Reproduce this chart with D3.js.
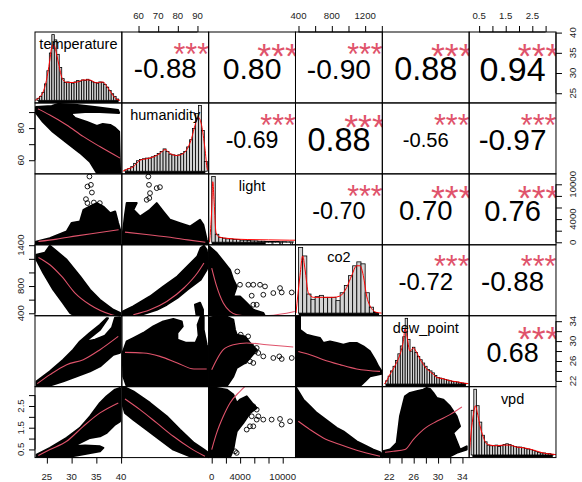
<!DOCTYPE html>
<html>
<head>
<meta charset="utf-8">
<script src="https://cdn.jsdelivr.net/npm/d3@7/dist/d3.min.js"></script>
<style>
  body { margin: 0; background: #fff; }
  svg text { font-family: "Liberation Sans", Arial, sans-serif; }
</style>
</head>
<body>
<div id="chart-area"></div>
<script>
const varNames = ["temperature", "humanidity", "light", "co2", "dew_point", "vpd"];
const varDomains = [[22.6, 40.15], [51.5, 95.7], [-430, 11800], [364, 1406], [20.85, 35.1], [0.125, 3.39]];

// axis ticks and the labels R kept
const tempTicks = [25, 30, 35, 40];
const humTicks = [60, 70, 80, 90];
const lightTicks = [0, 2000, 4000, 6000, 8000, 10000];
const co2Ticks = [400, 600, 800, 1000, 1200, 1400];
const dewTicks = [22, 24, 26, 28, 30, 32, 34];
const vpdTicks = [0.5, 1, 1.5, 2, 2.5, 3];

const humTopLabels = [60, 70, 80, 90];
const co2TopLabels = [400, 800, 1200];
const vpdTopLabels = [0.5, 1.5, 2.5];
const tempBottomLabels = [25, 30, 35, 40];
const lightBottomLabels = [0, 4000, 10000];
const dewBottomLabels = [22, 26, 30, 34];
const humLeftLabels = [60, 80];
const co2LeftLabels = [400, 800, 1400];
const vpdLeftLabels = [0.5, 1.5, 2.5];
const tempRightLabels = [25, 30, 35, 40];
const lightRightLabels = [0, 4000, 10000];
const dewRightLabels = [22, 26, 30, 34];

// correlations (upper panels)
const corrRows = [0, 0, 0, 0, 0, 1, 1, 1, 1, 2, 2, 2, 3, 3, 4];
const corrCols = [1, 2, 3, 4, 5, 2, 3, 4, 5, 3, 4, 5, 4, 5, 5];
const corrValues = [-0.88, 0.80, -0.90, 0.88, 0.94, -0.69, 0.88, -0.56, -0.97, -0.70, 0.70, 0.76, -0.72, -0.88, 0.68];
const corrStars = ["***", "***", "***", "***", "***", "***", "***", "***", "***", "***", "***", "***", "***", "***", "***"];

// histograms (relative density per bin) and density curves
const tempHist = [0.03, 0.06, 0.12, 0.25, 0.45, 0.72, 1.0, 0.92, 0.7, 0.5, 0.33, 0.27, 0.28, 0.27, 0.26, 0.28, 0.3, 0.29, 0.31, 0.3, 0.32, 0.3, 0.28, 0.27, 0.26, 0.28, 0.27, 0.24, 0.2, 0.15, 0.1, 0.06, 0.02];
const humHist = [0.02, 0.04, 0.07, 0.12, 0.16, 0.18, 0.19, 0.2, 0.2, 0.22, 0.24, 0.27, 0.3, 0.34, 0.3, 0.26, 0.25, 0.24, 0.25, 0.27, 0.3, 0.37, 0.48, 0.65, 0.88, 1.0, 0.62, 0.15];
const lightHist = [1.0, 0.12, 0.07, 0.06, 0.05, 0.05, 0.04, 0.04, 0.03, 0.03, 0.025, 0.02, 0.02, 0.015, 0.015, 0.01, 0.01, 0.01, 0.01, 0.008, 0.008, 0.005, 0.005];
const co2Hist = [1.0, 0.87, 0.29, 0.21, 0.25, 0.27, 0.24, 0.24, 0.24, 0.19, 0.31, 0.42, 0.57, 0.72, 0.78, 0.75, 0.31, 0.09, 0.01];
const dewHist = [0.05, 0.12, 0.2, 0.27, 0.36, 0.46, 0.58, 0.72, 1.0, 0.68, 0.5, 0.56, 0.48, 0.42, 0.37, 0.32, 0.27, 0.22, 0.2, 0.17, 0.13, 0.1, 0.09, 0.08, 0.07, 0.06, 0.05, 0.04, 0.035, 0.03, 0.02, 0.015, 0.01];
const vpdHist = [0.68, 1.0, 0.75, 0.5, 0.3, 0.2, 0.15, 0.14, 0.14, 0.15, 0.13, 0.14, 0.16, 0.17, 0.16, 0.14, 0.13, 0.12, 0.12, 0.11, 0.1, 0.09, 0.08, 0.07, 0.05, 0.04, 0.03, 0.03, 0.02, 0.02, 0.01];
const histStarts = [23.0, 53.0, 0, 400, 21.4, 0.2];
const histWidths = [0.5, 1.5, 500, 50, 0.4, 0.1];

const tempDensity = [[22.6, 0], [22.9, 0.01], [23.55, 0.05], [24.2, 0.12], [24.9, 0.3], [25.57, 0.6], [25.9, 0.78], [26.24, 0.85], [26.58, 0.82], [26.92, 0.72], [27.26, 0.6], [27.59, 0.48], [27.93, 0.37], [28.26, 0.31], [28.94, 0.275], [30.29, 0.27], [31.63, 0.29], [32.3, 0.31], [33.65, 0.31], [35.0, 0.265], [36.34, 0.28], [37.01, 0.225], [37.68, 0.15], [38.36, 0.075], [39.04, 0.02], [39.8, 0]];
const humDensity = [[52, 0], [54, 0.03], [57.3, 0.066], [60.75, 0.167], [64.16, 0.19], [67.5, 0.217], [70.9, 0.27], [73.5, 0.33], [76, 0.27], [79.4, 0.24], [82.8, 0.27], [85.3, 0.37], [87, 0.5], [88.75, 0.7], [90.45, 0.82], [92.1, 0.7], [93.8, 0.35], [95, 0.04], [96, 0]];
const lightDensity = [[-300, 0], [0, 0.5], [150, 0.92], [350, 0.6], [600, 0.15], [1000, 0.08], [2000, 0.06], [3000, 0.05], [5000, 0.04], [8000, 0.035], [11000, 0.03], [11800, 0.03]];
const co2Density = [[370, 0], [418, 0.57], [450, 0.87], [478, 0.67], [518, 0.31], [578, 0.24], [698, 0.24], [818, 0.24], [898, 0.26], [978, 0.39], [1038, 0.57], [1098, 0.72], [1138, 0.72], [1178, 0.57], [1218, 0.26], [1258, 0.11], [1338, 0.01], [1398, 0]];
const dewDensity = [[21.2, 0], [21.56, 0.05], [22.11, 0.15], [22.65, 0.23], [23.21, 0.33], [23.75, 0.45], [24.29, 0.65], [24.6, 0.85], [24.85, 0.75], [25.39, 0.5], [25.93, 0.55], [26.49, 0.48], [27.03, 0.38], [27.57, 0.3], [28.13, 0.23], [28.67, 0.19], [29.21, 0.15], [29.77, 0.1], [30.31, 0.09], [30.86, 0.08], [31.41, 0.065], [31.95, 0.05], [33.05, 0.035], [34.14, 0.015], [35, 0.005]];
const vpdDensity = [[0.13, 0], [0.2, 0.35], [0.28, 0.6], [0.36, 0.75], [0.43, 0.65], [0.53, 0.45], [0.66, 0.27], [0.78, 0.17], [0.91, 0.15], [1.16, 0.14], [1.41, 0.15], [1.66, 0.15], [1.91, 0.12], [2.16, 0.11], [2.41, 0.09], [2.66, 0.06], [2.91, 0.03], [3.16, 0.015], [3.4, 0.005]];

const tempRug = [[23.25, 39.5]];
const humRug = [[53.1, 94.0]];
const lightRug = [[0, 7600], [8440, 8460], [8580, 8600], [9510, 9530], [9620, 9640], [9860, 9880], [9900, 9920], [11030, 11050], [11260, 11280], [11330, 11350]];
const co2Rug = [[402, 1367]];
const dewRug = [[21.38, 34.57]];
const vpdRug = [[0.246, 3.27]];

// lower panels: outline of the dense point cloud, loose points, smoother
const humTempBlob = [[22.8, 93.2], [26.0, 93.8], [27.3, 95.1], [30.7, 94.5], [34.7, 93.2], [39.4, 91.3], [39.6, 89.5], [35.7, 90.1], [32.7, 90.1], [30.1, 89.5], [30.1, 88.2], [30.7, 86.4], [33.1, 83.9], [35.1, 81.4], [36.3, 82.6], [37.8, 82.0], [38.8, 80.1], [39.6, 77.7], [39.8, 52.1], [35.1, 52.1], [33.7, 59.0], [31.7, 64.6], [29.1, 70.8], [26.2, 77.7], [24.2, 83.9], [22.8, 89.5]];
const humTempSmooth = [[23.2, 92.0], [25.6, 88.2], [29.0, 82.0], [32.4, 74.7], [35.7, 68.5], [39.8, 61.3]];

const lightTempBlob = [[22.8, -600], [22.8, 90], [25.6, 720], [29.0, 1860], [30.0, 3310], [31.7, 3590], [32.4, 5600], [33.7, 6170], [35.1, 6760], [36.4, 6170], [37.8, 5030], [38.8, 5310], [39.4, 3310], [39.8, 2160], [39.8, -600]];
const lightTempPoints = [[33.6, 11340], [33.9, 9910], [33.2, 9620], [34.1, 8580], [32.9, 7440], [33.2, 6760], [34.5, 6860], [35.7, 6760]];
const lightTempSmooth = [[23.3, 150], [27, 550], [31, 1100], [35, 1600], [39.5, 2150]];

const co2TempBlob = [[22.9, 1259], [24.6, 1289], [25.6, 1392], [26.6, 1333], [29.0, 1186], [31.7, 941], [33.7, 746], [35.7, 599], [38.4, 452], [39.8, 404], [39.8, 349], [31.0, 349], [29.7, 404], [28.3, 550], [26.3, 746], [24.3, 991], [22.9, 1186]];
const co2TempSmooth = [[23.3, 1220], [25.6, 1113], [28.0, 941], [30.7, 697], [33.7, 525], [38.1, 379], [39.5, 355]];

const dewTempBlob = [[22.94, 21.05], [22.94, 21.91], [25.63, 23.92], [28.32, 26.27], [30.34, 28.28], [31.69, 29.94], [33.72, 31.69], [35.74, 33.29], [37.09, 34.6], [37.35, 34.6], [35.74, 32.29], [33.72, 30.68], [32.71, 29.88], [34.73, 30.28], [36.75, 31.09], [38.16, 32.69], [38.77, 34.7], [39.78, 34.8], [39.78, 27.67], [38.42, 27.27], [35.74, 24.92], [33.72, 23.92], [31.03, 22.92], [28.32, 21.91], [25.63, 21.05]];
const dewTempSmooth = [[23.06, 21.45], [25.63, 23.26], [29.0, 25.27], [32.36, 26.27], [35.74, 28.28], [39.43, 30.95]];

const vpdTempBlob = [[22.94, 0.263], [25.63, 0.571], [29.0, 1.031], [31.69, 1.491], [33.72, 2.025], [35.74, 2.641], [37.09, 2.945], [38.77, 3.253], [39.78, 3.331], [39.78, 1.795], [38.77, 1.643], [37.09, 1.261], [35.74, 1.105], [33.72, 1.031], [31.69, 0.801], [30.34, 0.645], [32.71, 0.677], [35.74, 0.645], [36.41, 0.571], [35.74, 0.415], [31.03, 0.217], [27.65, 0.1], [22.94, 0.1]];
const vpdTempSmooth = [[23.27, 0.217], [25.63, 0.493], [29.0, 0.875], [32.36, 1.565], [35.74, 2.181], [39.43, 2.641]];

const lightHumBlob = [[52.1, -600], [52.1, 1810], [53.11, 4739], [53.98, 6755], [59.07, 6755], [57.34, 5600], [60.75, 4446], [65.84, 5600], [69.25, 6755], [72.61, 5308], [76.03, 3878], [81.12, 3309], [86.21, 2723], [91.3, 3878], [92.97, 3016], [94.7, 432], [95.5, -600]];
const lightHumPoints = [[64.99, 11338], [65.33, 9908], [70.9, 9512], [69.25, 9339], [65.84, 8478], [65.48, 7616], [64.16, 7323]];
const lightHumSmooth = [[53.1, 1750], [64, 1350], [75, 900], [85, 420], [94, 0]];

const co2HumBlob = [[52.1, 357], [52.1, 427], [57.34, 501], [65.84, 647], [72.61, 794], [79.76, 941], [84.85, 1088], [89.94, 1235], [91.62, 1358], [93.3, 1392], [94.7, 1333], [95.5, 1138], [94.7, 1039], [91.62, 892], [84.85, 746], [79.76, 624], [74.34, 525], [69.25, 452], [64.16, 404], [59.07, 357]];
const co2HumStreak = [[88.75, 525], [91.3, 555], [92.8, 452], [92.8, 357], [89.6, 357]];
const co2HumSmooth = [[57.34, 379], [65.84, 452], [74.34, 574], [83.1, 771], [89.94, 991], [93.3, 1138]];

const dewHumBlob = [[52.1, 27.87], [53.98, 29.94], [57.34, 30.62], [62.43, 31.63], [67.52, 32.95], [72.61, 33.96], [77.7, 34.44], [81.97, 33.96], [82.48, 32.95], [79.76, 31.63], [79.76, 30.28], [83.98, 29.68], [89.07, 29.68], [90.6, 31.09], [90.09, 33.29], [91.62, 34.9], [93.16, 34.9], [93.16, 32.29], [94.7, 29.28], [95.5, 28.28], [95.5, 20.95], [53.98, 20.95], [52.25, 22.92], [52.1, 25.27]];
const dewHumSmooth = [[53.11, 27.73], [62.43, 27.61], [70.9, 26.93], [79.76, 25.61], [88.22, 24.4], [94.7, 24.4]];

const vpdHumBlob = [[52.1, 3.345], [53.11, 3.359], [57.34, 3.175], [65.84, 2.641], [74.34, 2.025], [81.12, 1.413], [88.21, 0.801], [93.3, 0.493], [95.5, 0.341], [95.5, 0.102], [86.2, 0.185], [77.7, 0.493], [70.9, 0.953], [64.16, 1.413], [57.34, 1.873], [53.11, 2.181], [52.1, 2.485]];
const vpdHumSmooth = [[53.11, 2.825], [60.75, 2.333], [69.25, 1.721], [77.7, 1.105], [86.2, 0.571], [93.8, 0.185]];

const co2LightBlob = [[-341, 1381], [701, 1284], [1631, 1161], [2575, 1039], [3040, 892], [3520, 794], [3040, 647], [3984, 647], [4928, 550], [5858, 452], [7267, 404], [7507, 357], [-341, 357]];
const co2LightPoints = [[3604, 1014], [3984, 819], [5157, 819], [5858, 819], [6803, 819], [7507, 794], [5633, 658], [7267, 672], [8676, 697], [9621, 770], [9860, 706], [11269, 706], [3984, 511], [4689, 511], [5858, 525], [6337, 525]];
const co2LightSmooth = [[0, 1064], [701, 794], [1631, 550], [2575, 427], [3520, 379], [5000, 362], [8000, 368], [11700, 427]];

const dewLightBlob = [[-341, 34.7], [701, 35.0], [2110, 34.9], [3040, 34.3], [3280, 32.29], [3520, 31.29], [4689, 30.95], [5394, 29.62], [5858, 28.94], [6337, 28.28], [5394, 26.61], [4689, 25.61], [3520, 24.6], [3040, 22.92], [2110, 20.95], [-341, 20.95]];
const dewLightPoints = [[4083, 31.29], [5129, 30.95], [4689, 29.62], [5633, 28.94], [6337, 28.62], [6098, 27.93], [6567, 27.61], [7267, 26.93], [8676, 26.61], [9522, 26.93], [9860, 26.41], [11269, 26.61], [4689, 25.93], [5394, 25.93], [5858, 25.61]];
const dewLightSmooth = [[0, 24.26], [701, 26.27], [1631, 28.28], [3040, 29.28], [4928, 29.62], [7747, 29.28], [11480, 28.82]];

const vpdLightBlob = [[-341, 3.331], [701, 3.331], [2110, 3.253], [3040, 3.023], [3520, 2.641], [3984, 2.793], [4928, 2.945], [5858, 2.563], [6337, 2.411], [5394, 2.181], [4449, 1.721], [3520, 1.335], [3280, 0.953], [3040, 0.493], [2575, 0.139], [-341, 0.1]];
const vpdLightPoints = [[3750, 2.485], [4449, 2.485], [5157, 2.457], [5858, 2.485], [6337, 2.333], [4928, 2.181], [5633, 2.025], [6337, 1.873], [6567, 2.025], [7267, 1.873], [8442, 1.873], [9621, 1.905], [9860, 1.643], [11034, 1.795], [5394, 1.565], [5858, 1.565], [4928, 1.413], [3280, 0.415], [3520, 0.341]];
const vpdLightSmooth = [[0, 0.493], [701, 1.261], [1631, 2.025], [2575, 2.641], [3984, 3.175], [4689, 3.405]];

const dewCo2Blob = [[370, 35.0], [418, 35.0], [418, 32.29], [498, 31.29], [578, 30.95], [658, 30.62], [698, 29.62], [778, 29.94], [858, 29.62], [938, 29.28], [1018, 29.62], [1098, 29.62], [1178, 28.94], [1258, 27.93], [1318, 26.27], [1358, 24.92], [1398, 23.92], [1398, 23.46], [1258, 22.92], [1198, 21.91], [1138, 20.95], [370, 20.95]];
const dewCo2Smooth = [[398, 27.93], [538, 27.27], [698, 26.27], [898, 25.27], [1098, 24.4], [1378, 23.92]];

const vpdCo2Blob = [[370, 3.345], [458, 2.793], [538, 2.485], [618, 2.181], [698, 1.951], [778, 1.721], [858, 1.491], [938, 1.335], [1018, 1.105], [1098, 0.875], [1178, 0.723], [1298, 0.493], [1378, 0.369], [1406, 0.263], [1406, 0.1], [370, 0.1]];
const vpdCo2Smooth = [[398, 1.795], [538, 1.413], [698, 1.031], [898, 0.723], [1098, 0.461], [1378, 0.185]];

const vpdDewBlob = [[20.96, 0.1], [20.96, 0.415], [22.11, 0.493], [23.21, 0.801], [23.75, 2.025], [24.29, 2.641], [24.57, 2.945], [25.39, 3.101], [26.49, 3.175], [27.57, 3.253], [28.13, 3.331], [28.67, 3.285], [29.21, 3.101], [29.77, 2.871], [30.86, 2.793], [31.95, 2.485], [33.05, 2.025], [33.6, 1.565], [32.5, 1.261], [33.6, 0.493], [34.7, 0.645], [34.7, 0.493], [33.05, 0.341], [31.95, 0.185], [30.31, 0.1]];
const vpdDewSmooth = [[21.29, 0.369], [22.65, 0.415], [24.57, 0.493], [25.93, 0.953], [27.57, 1.413], [29.77, 1.795], [31.95, 2.103], [33.9, 2.457]];

// ---- layout ----
const chartSize = { width: 582, height: 482 };
const grid = { left: 35, top: 32, cellW: 86.83, cellH: 70.93 };
const nVars = varNames.length;

const xScales = varDomains.map((d, j) => d3.scaleLinear().domain(d)
    .range([grid.left + j * grid.cellW, grid.left + (j + 1) * grid.cellW]));
const yScales = varDomains.map((d, i) => d3.scaleLinear().domain(d)
    .range([grid.top + (i + 1) * grid.cellH, grid.top + i * grid.cellH]));

const panelBox = (i, j) => ({
    x: grid.left + j * grid.cellW, y: grid.top + i * grid.cellH,
    w: grid.cellW, h: grid.cellH
});

const histTable = [
    { heights: tempHist, density: tempDensity, rug: tempRug },
    { heights: humHist, density: humDensity, rug: humRug },
    { heights: lightHist, density: lightDensity, rug: lightRug },
    { heights: co2Hist, density: co2Density, rug: co2Rug },
    { heights: dewHist, density: dewDensity, rug: dewRug },
    { heights: vpdHist, density: vpdDensity, rug: vpdRug }
];

const lowerPanels = [
    { row: 1, col: 0, blobs: [humTempBlob], points: [], smooth: humTempSmooth },
    { row: 2, col: 0, blobs: [lightTempBlob], points: lightTempPoints, smooth: lightTempSmooth },
    { row: 3, col: 0, blobs: [co2TempBlob], points: [], smooth: co2TempSmooth },
    { row: 4, col: 0, blobs: [dewTempBlob], points: [], smooth: dewTempSmooth },
    { row: 5, col: 0, blobs: [vpdTempBlob], points: [], smooth: vpdTempSmooth },
    { row: 2, col: 1, blobs: [lightHumBlob], points: lightHumPoints, smooth: lightHumSmooth },
    { row: 3, col: 1, blobs: [co2HumBlob, co2HumStreak], points: [], smooth: co2HumSmooth },
    { row: 4, col: 1, blobs: [dewHumBlob], points: [], smooth: dewHumSmooth },
    { row: 5, col: 1, blobs: [vpdHumBlob], points: [], smooth: vpdHumSmooth },
    { row: 3, col: 2, blobs: [co2LightBlob], points: co2LightPoints, smooth: co2LightSmooth },
    { row: 4, col: 2, blobs: [dewLightBlob], points: dewLightPoints, smooth: dewLightSmooth },
    { row: 5, col: 2, blobs: [vpdLightBlob], points: vpdLightPoints, smooth: vpdLightSmooth },
    { row: 4, col: 3, blobs: [dewCo2Blob], points: [], smooth: dewCo2Smooth },
    { row: 5, col: 3, blobs: [vpdCo2Blob], points: [], smooth: vpdCo2Smooth },
    { row: 5, col: 4, blobs: [vpdDewBlob], points: [], smooth: vpdDewSmooth }
];

const axesTable = [
    { side: "top", idx: 1, ticks: humTicks, labels: humTopLabels },
    { side: "top", idx: 3, ticks: co2Ticks, labels: co2TopLabels },
    { side: "top", idx: 5, ticks: vpdTicks, labels: vpdTopLabels },
    { side: "bottom", idx: 0, ticks: tempTicks, labels: tempBottomLabels },
    { side: "bottom", idx: 2, ticks: lightTicks, labels: lightBottomLabels },
    { side: "bottom", idx: 4, ticks: dewTicks, labels: dewBottomLabels },
    { side: "left", idx: 1, ticks: humTicks, labels: humLeftLabels },
    { side: "left", idx: 3, ticks: co2Ticks, labels: co2LeftLabels },
    { side: "left", idx: 5, ticks: vpdTicks, labels: vpdLeftLabels },
    { side: "right", idx: 0, ticks: tempTicks, labels: tempRightLabels },
    { side: "right", idx: 2, ticks: lightTicks, labels: lightRightLabels },
    { side: "right", idx: 4, ticks: dewTicks, labels: dewRightLabels }
];

const svg = d3.select("#chart-area").append("svg")
    .attr("width", chartSize.width)
    .attr("height", chartSize.height);
const defs = svg.append("defs");

const clipFor = (i, j) => {
    const b = panelBox(i, j);
    defs.append("clipPath").attr("id", `clip-${i}-${j}`)
        .append("rect").attr("x", b.x).attr("y", b.y).attr("width", b.w).attr("height", b.h);
    return `url(#clip-${i}-${j})`;
};

const smoothLine = (x, y) => d3.line().x(d => x(d[0])).y(d => y(d[1])).curve(d3.curveMonotoneX);

// diagonal: histogram + density + rug + variable name
const drawDiagonal = (i) => {
    const h = histTable[i];
    const b = panelBox(i, i);
    const x = xScales[i];
    const y = d3.scaleLinear().domain([-0.04, 1.04]).range([b.y + b.h, b.y]);
    const start = histStarts[i], width = histWidths[i];
    const g = svg.append("g").attr("clip-path", clipFor(i, i));

    g.selectAll("rect.bar").data(h.heights).join("rect")
        .attr("class", "bar")
        .attr("x", (d, k) => x(start + k * width))
        .attr("width", (d, k) => x(start + (k + 1) * width) - x(start + k * width))
        .attr("y", d => y(d))
        .attr("height", d => y(0) - y(d))
        .attr("fill", "#d3d3d3")
        .attr("stroke", "#000")
        .attr("stroke-width", 0.8);

    g.append("path").datum(h.density)
        .attr("d", smoothLine(x, y))
        .attr("fill", "none").attr("stroke", "#ff0000").attr("stroke-width", 1);

    g.selectAll("rect.rug").data(h.rug).join("rect")
        .attr("class", "rug")
        .attr("x", d => x(d[0]))
        .attr("width", d => Math.max(0.7, x(d[1]) - x(d[0])))
        .attr("y", b.y + b.h - 2.6)
        .attr("height", 2.6)
        .attr("fill", "#000");
};

d3.range(nVars).forEach(drawDiagonal);

// variable names, sized like pairs() does it
const probe = svg.append("text").attr("font-size", 12).text(varNames[0]);
const labelSize = 12 * 0.9 * grid.cellW / d3.max(varNames, name => probe.text(name).node().getComputedTextLength());
probe.remove();
varNames.forEach((name, i) => {
    const b = panelBox(i, i);
    svg.append("text")
        .attr("x", b.x + b.w / 2)
        .attr("y", b.y + 17.3)
        .attr("text-anchor", "middle")
        .attr("font-size", labelSize)
        .attr("fill", "#000")
        .text(name);
});

// upper panels: correlation value and stars
corrValues.forEach((r, k) => {
    const i = corrRows[k], j = corrCols[k];
    const b = panelBox(i, j);
    const g = svg.append("g").attr("clip-path", clipFor(i, j));
    const txt = r.toFixed(2);
    const t = g.append("text").attr("font-size", 12).text(txt);
    const base = 12 * 0.8 * b.w / t.node().getComputedTextLength();
    const fs = base * (Math.abs(r) + 0.3) / 1.3;
    t.attr("font-size", fs)
        .attr("x", b.x + 0.5 * b.w)
        .attr("y", b.y + 0.5 * b.h + 0.36 * fs + 1)
        .attr("text-anchor", "middle")
        .attr("fill", "#000");
    g.append("text")
        .attr("x", b.x + 0.8 * b.w)
        .attr("y", b.y + 0.2 * b.h + 0.575 * base + 1)
        .attr("text-anchor", "middle")
        .attr("font-size", base)
        .attr("fill", "#DF536B")
        .text(corrStars[k]);
});

// lower panels: point clouds + smoother
lowerPanels.forEach(p => {
    const x = xScales[p.col], y = yScales[p.row];
    const g = svg.append("g").attr("clip-path", clipFor(p.row, p.col));
    const outline = d3.line().x(d => x(d[0])).y(d => y(d[1])).curve(d3.curveLinearClosed);

    g.selectAll("path.blob").data(p.blobs).join("path")
        .attr("class", "blob")
        .attr("d", outline)
        .attr("fill", "#000")
        .attr("stroke", "#000")
        .attr("stroke-width", 2)
        .attr("stroke-linejoin", "round");

    g.selectAll("circle").data(p.points).join("circle")
        .attr("cx", d => x(d[0]))
        .attr("cy", d => y(d[1]))
        .attr("r", 2.4)
        .attr("fill", "none")
        .attr("stroke", "#000")
        .attr("stroke-width", 0.9);

    g.append("path").datum(p.smooth)
        .attr("d", smoothLine(x, y))
        .attr("fill", "none").attr("stroke", "#DF536B").attr("stroke-width", 1.1);
});

// panel boxes
d3.range(nVars).forEach(i => d3.range(nVars).forEach(j => {
    const b = panelBox(i, j);
    svg.append("rect").attr("x", b.x).attr("y", b.y).attr("width", b.w).attr("height", b.h)
        .attr("fill", "none").attr("stroke", "#000").attr("stroke-width", 1);
}));

// outer axes
const axisGen = { top: d3.axisTop, bottom: d3.axisBottom, left: d3.axisLeft, right: d3.axisRight };
const fmt = v => String(v);
axesTable.forEach(a => {
    const horiz = a.side === "top" || a.side === "bottom";
    const scale = horiz ? xScales[a.idx] : yScales[a.idx];
    const pos = {
        top: [0, grid.top], bottom: [0, grid.top + nVars * grid.cellH],
        left: [grid.left, 0], right: [grid.left + nVars * grid.cellW, 0]
    }[a.side];
    const g = svg.append("g").attr("transform", `translate(${pos})`)
        .call(axisGen[a.side](scale).tickValues(a.ticks).tickSize(6).tickFormat(""));
    g.select(".domain").remove();
    g.selectAll(".tick line").attr("stroke", "#000");
    const [p0, p1] = d3.extent(a.ticks).map(scale);
    g.append("line")
        .attr("x1", horiz ? p0 : 0).attr("x2", horiz ? p1 : 0)
        .attr("y1", horiz ? 0 : p0).attr("y2", horiz ? 0 : p1)
        .attr("stroke", "#000");
    const lbl = g.selectAll("text.lbl").data(a.labels).join("text")
        .attr("class", "lbl")
        .attr("font-size", 9.6)
        .attr("fill", "#222")
        .attr("text-anchor", "middle")
        .text(fmt);
    if (a.side === "top") lbl.attr("x", d => scale(d)).attr("y", -13);
    if (a.side === "bottom") lbl.attr("x", d => scale(d)).attr("y", 22.7);
    if (a.side === "left") lbl.attr("transform", d => `translate(-11,${scale(d)}) rotate(-90)`);
    if (a.side === "right") lbl.attr("transform", d => `translate(20.5,${scale(d)}) rotate(-90)`);
});
</script>
</body>
</html>
